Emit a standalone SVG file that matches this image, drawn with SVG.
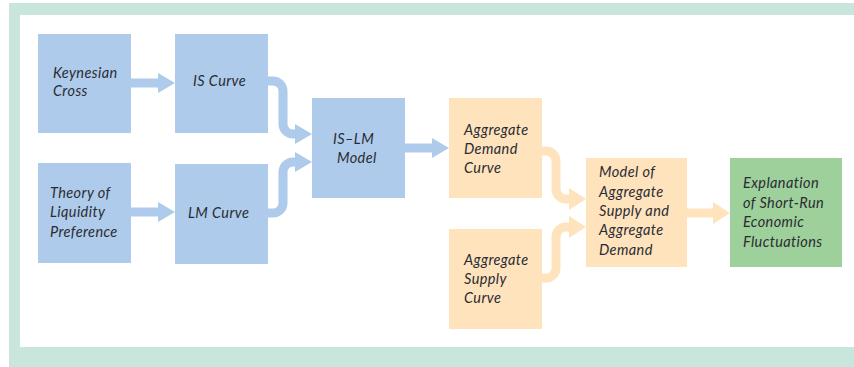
<svg xmlns="http://www.w3.org/2000/svg" width="854" height="367" viewBox="0 0 854 367">
<style>
.blue{fill:#aecbeb}
.orange{fill:#fee3bd}
.green{fill:#9dd09a}
.t{font-family:"Lato","Open Sans",sans-serif;font-style:italic;font-size:14.5px;letter-spacing:0.4px;fill:#2b2b33}
.cb{fill:none;stroke:#aecbeb;stroke-width:9}
.co{fill:none;stroke:#fee3bd;stroke-width:9}
</style>
<defs>
<marker id="ab" viewBox="0 0 17 20" refX="0" refY="10" markerWidth="17" markerHeight="20" markerUnits="userSpaceOnUse" orient="auto"><path d="M0,0 L17,10 L0,20 z" fill="#aecbeb"/></marker>
<marker id="ao" viewBox="0 0 17 22" refX="0" refY="11" markerWidth="17" markerHeight="22" markerUnits="userSpaceOnUse" orient="auto"><path d="M0,0 L17,11 L0,22 z" fill="#fee3bd"/></marker>
</defs>
<rect x="0" y="0" width="854" height="367" fill="#ffffff"/>
<rect x="9" y="3" width="845" height="364" fill="#c9e6dc"/>
<rect x="20" y="15" width="834" height="332" fill="#ffffff"/>
<g id="connectors">
<path class="cb" d="M131,83 H158" marker-end="url(#ab)"/>
<path class="cb" d="M131,212 H158" marker-end="url(#ab)"/>
<path class="cb" d="M268,81 H273 A10,10 0 0 1 283,91 V124 A10,10 0 0 0 293,134 H295" marker-end="url(#ab)"/>
<path class="cb" d="M268,213 H273 A10,10 0 0 0 283,203 V172 A10,10 0 0 1 293,162 H295" marker-end="url(#ab)"/>
<path class="cb" d="M405,148 H432" marker-end="url(#ab)"/>
<path class="co" d="M542,151 H546 A10,10 0 0 1 556,161 V189 A10,10 0 0 0 566,199 H569" marker-end="url(#ao)"/>
<path class="co" d="M542,278 H546 A10,10 0 0 0 556,268 V237 A10,10 0 0 1 566,227 H569" marker-end="url(#ao)"/>
<path class="co" d="M687,213 H713" marker-end="url(#ao)"/>
</g>
<g id="keynesian-cross"><rect class="blue" x="38" y="34" width="93" height="99"/><text class="t" x="53" y="78">Keynesian</text><text class="t" x="53" y="96">Cross</text></g>
<g id="is-curve"><rect class="blue" x="175" y="34" width="93" height="99"/><text class="t" x="193" y="86">IS Curve</text></g>
<g id="liquidity-preference"><rect class="blue" x="38" y="163" width="93" height="100"/><text class="t" x="50" y="198">Theory of</text><text class="t" x="50" y="217">Liquidity</text><text class="t" x="50" y="237">Preference</text></g>
<g id="lm-curve"><rect class="blue" x="175" y="164" width="93" height="100"/><text class="t" x="188" y="218">LM Curve</text></g>
<g id="is-lm-model"><rect class="blue" x="312" y="98" width="93" height="100"/><text class="t" x="333" y="144">IS–LM</text><text class="t" x="337" y="163">Model</text></g>
<g id="aggregate-demand"><rect class="orange" x="449" y="98" width="93" height="100"/><text class="t" x="464" y="135">Aggregate</text><text class="t" x="464" y="154">Demand</text><text class="t" x="464" y="173">Curve</text></g>
<g id="aggregate-supply"><rect class="orange" x="449" y="229" width="93" height="100"/><text class="t" x="464" y="265">Aggregate</text><text class="t" x="464" y="284">Supply</text><text class="t" x="464" y="303">Curve</text></g>
<g id="as-ad-model"><rect class="orange" x="586" y="158" width="101" height="109"/><text class="t" x="599" y="177">Model of</text><text class="t" x="599" y="197">Aggregate</text><text class="t" x="599" y="216">Supply and</text><text class="t" x="599" y="235">Aggregate</text><text class="t" x="599" y="255">Demand</text></g>
<g id="explanation"><rect class="green" x="730" y="158" width="112" height="109"/><text class="t" x="743" y="188">Explanation</text><text class="t" x="743" y="208">of Short-Run</text><text class="t" x="743" y="227">Economic</text><text class="t" x="743" y="247">Fluctuations</text></g>
</svg>
